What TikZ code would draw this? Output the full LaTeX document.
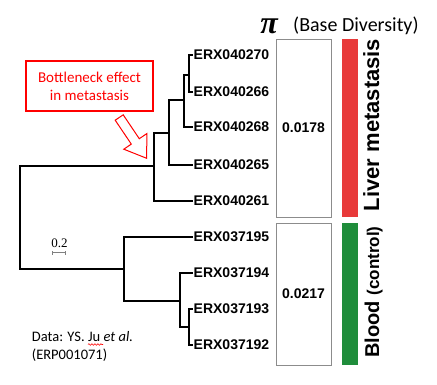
\documentclass[tikz,border=0pt]{standalone}
\usepackage{fontspec}
\setmainfont{Carlito}
\newfontfamily\arialf{Liberation Sans}
\newfontfamily\timesf{Liberation Serif}
\usetikzlibrary{decorations.pathmorphing}
\definecolor{barred}{RGB}{232,58,58}
\definecolor{bargreen}{RGB}{31,141,59}
\definecolor{boxgray}{RGB}{140,140,140}
\begin{document}
\begin{tikzpicture}[x=1pt,y=-1pt,
  branch/.style={line width=1.8pt, black},
  leaf/.style={anchor=west, inner xsep=0.5pt, inner ysep=0pt, font=\arialf\bfseries\fontsize{14}{14}\selectfont},
  pibox/.style={draw=boxgray, line width=1pt, minimum width=55pt, inner sep=0pt, font=\arialf\bfseries\fontsize{14}{14}\selectfont},
  bar/.style={minimum width=16pt, inner sep=0pt},
  sidelabel/.style={rotate=90, anchor=base, inner sep=0pt, font=\arialf\bfseries},
  scalebar/.style={draw=gray, line width=0.8pt}
]
\useasboundingbox (0,0) rectangle (437,384);

% internal nodes of the tree
\coordinate (R) at (20,217);
\coordinate (A) at (154,166);
\coordinate (B) at (169,133);
\coordinate (C) at (184,100);
\coordinate (D) at (189,75);
\coordinate (E) at (124,269);
\coordinate (F) at (180,301);
\coordinate (G) at (189,327);

% leaves
\node[leaf] (l270) at (193,55) {ERX040270};
\node[leaf] (l266) at (193,92) {ERX040266};
\node[leaf] (l268) at (193,127) {ERX040268};
\node[leaf] (l265) at (193,165) {ERX040265};
\node[leaf] (l261) at (193,201) {ERX040261};
\node[leaf] (l195) at (193,237) {ERX037195};
\node[leaf] (l194) at (193,273) {ERX037194};
\node[leaf] (l193) at (193,309) {ERX037193};
\node[leaf] (l192) at (193,345) {ERX037192};

% branches
\draw[branch] (R) |- (A);
\draw[branch] (R) |- (E);
\draw[branch] (A) |- (B);
\draw[branch] (A) |- (l261.west);
\draw[branch] (B) |- (C);
\draw[branch] (B) |- (l265.west);
\draw[branch] (C) |- (D);
\draw[branch] (C) |- (l268.west);
\draw[branch] (D) |- (l270.west);
\draw[branch] (D) |- (l266.west);
\draw[branch] (E) |- (l195.west);
\draw[branch] (E) |- (F);
\draw[branch] (F) |- (l194.west);
\draw[branch] (F) |- (G);
\draw[branch] (G) |- (l193.west);
\draw[branch] (G) |- (l192.west);

% pi header
\node[anchor=base, inner sep=0pt, font=\timesf\bfseries\itshape\fontsize{32}{32}\selectfont] (pisym) at (269,33) {π};
\node[anchor=base west, inner sep=0pt, font=\fontsize{20}{20}\selectfont] (bd) at (293,31) {(Base Diversity)};

% boxes
\node[pibox, minimum height=178pt] (box1) at (303.5,128) {0.0178};
\node[pibox, minimum height=142pt] (box2) at (303.5,294) {0.0217};

% bars
\node[bar, fill=barred, minimum height=178pt] (rbar) at (350,128) {};
\node[bar, fill=bargreen, minimum height=142pt] (gbar) at (350,294) {};

% side labels
\node[sidelabel, font=\arialf\bfseries\fontsize{22}{22}\selectfont] (liver) at (379,125) {Liver metastasis};
\node[sidelabel] (blood) at (379,292) {\fontsize{20}{20}\selectfont Blood \fontsize{17}{17}\selectfont(control)};

% callout
\node[draw=red, line width=2.2pt, text=red, minimum width=127pt, minimum height=50pt, align=center, font=\fontsize{15}{18}\selectfont] (callout) at (89.5,86) {Bottleneck effect\\in metastasis};
\draw[red, line width=1pt, fill=white, line join=miter]
  (115.2,120.2) -- (123.2,114.8) -- (139.3,138.7) -- (146.8,133.6) -- (146.7,158.3) -- (123.8,149.2) -- (131.3,144.1) -- cycle;

% scale bar
\node[anchor=base, inner sep=0pt, font=\timesf\fontsize{13}{13}\selectfont] (sc) at (59.5,247) {0.2};
\coordinate (sbL) at (52.5,252.5);
\coordinate (sbR) at (65.5,252.5);
\draw[scalebar] (sbL) -- (sbR);
\draw[scalebar] ([yshift=-2pt]sbL) -- ([yshift=2pt]sbL);
\draw[scalebar] ([yshift=-2pt]sbR) -- ([yshift=2pt]sbR);

% data credit
\node[anchor=base west, inner sep=0pt, font=\fontsize{14.5}{18}\selectfont] (data1) at (31.7,341) {Data: YS. Ju \textit{et al.}};
\node[anchor=base west, inner sep=0pt, font=\fontsize{14.5}{18}\selectfont] (data2) at (31.7,359) {(ERP001071)};
\coordinate (wl) at (88,344.5);
\coordinate (wr) at (103,344.5);
\draw[red, line width=0.6pt, decorate, decoration={snake, amplitude=0.8pt, segment length=3pt}] (wl) -- (wr);
\end{tikzpicture}
\end{document}
